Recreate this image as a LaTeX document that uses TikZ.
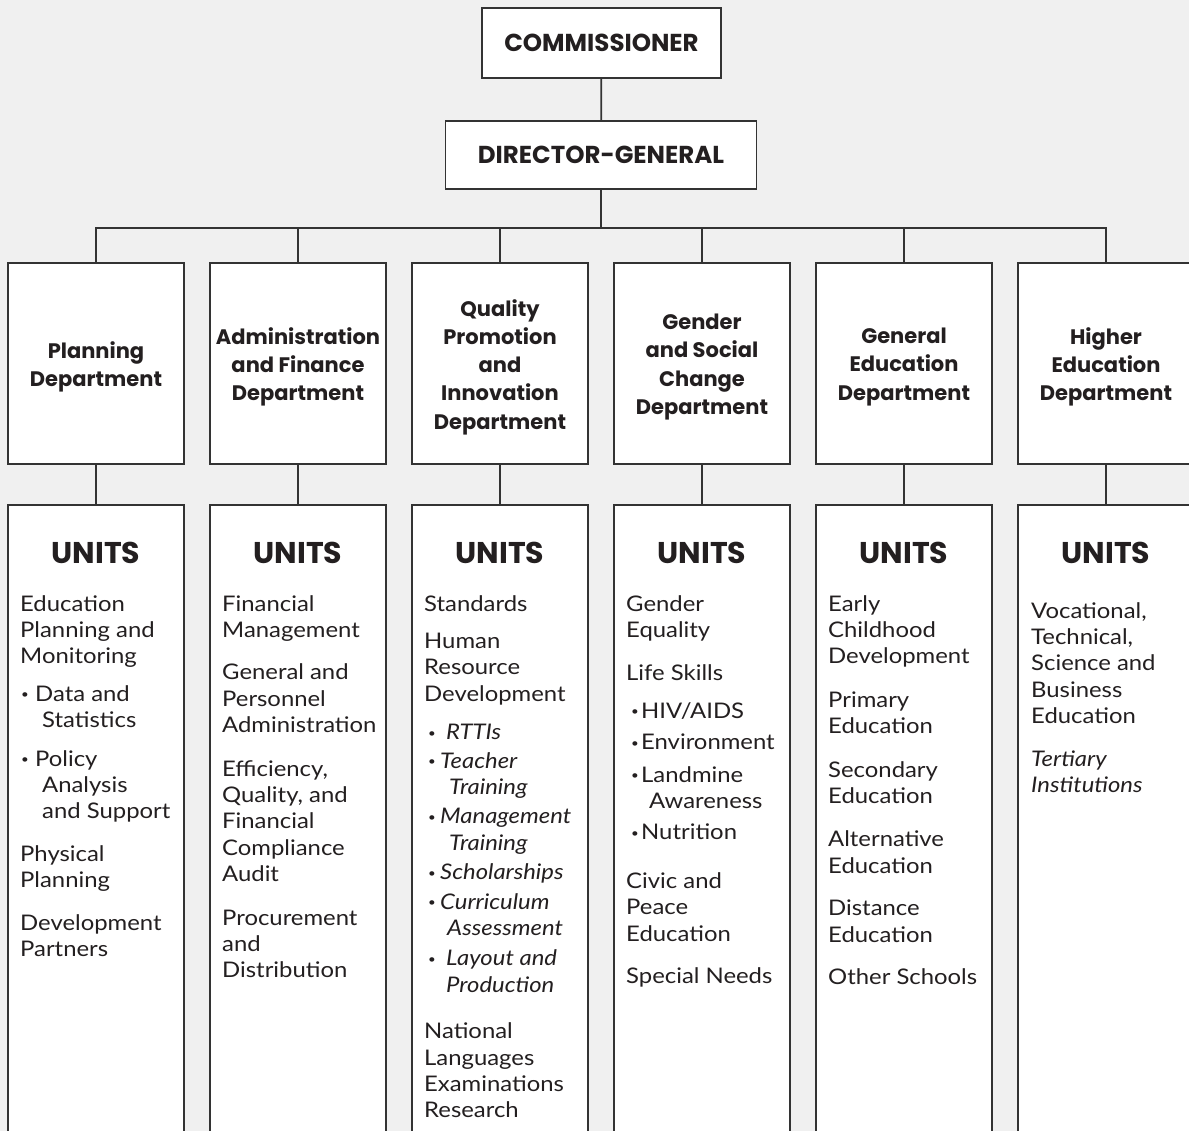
\documentclass[tikz,border=0pt]{standalone}
\usepackage{fontspec}
\setmainfont{Lato}[FakeStretch=1.11]
\newfontfamily\hdr{Poppins}
\definecolor{bgc}{HTML}{F0F0F0}
\definecolor{linec}{HTML}{333333}
\definecolor{txt}{HTML}{231F20}
\newcommand\mybul{\raisebox{0.12em}{\fontsize{12}{12}\selectfont\textbullet}}
\newcommand\bl[2]{\makebox[#2][l]{\hspace*{#1}\mybul}}
\tikzset{
  box/.style={draw=linec, line width=1.8pt, fill=white, inner sep=0pt},
  conn/.style={draw=linec, line width=1.8pt},
  toptxt/.style={font=\hdr\bfseries\fontsize{24.5}{28}\selectfont, text=txt},
  depttxt/.style={font=\hdr\bfseries\fontsize{21}{28.3}\selectfont, align=center, text=txt, inner sep=0pt, yshift=-3.5pt},
  unitshdr/.style={font=\hdr\bfseries\fontsize{30}{32}\selectfont, text=txt, inner sep=0pt},
  body/.style={font=\fontsize{21.5}{26.4}\selectfont, align=left, anchor=north west, inner sep=0pt, text=txt},
}
\begin{document}
\begin{tikzpicture}[x=1pt,y=-1pt]
\useasboundingbox (0,0) rectangle (1189,1131);
\fill[bgc] (0,0) rectangle (1189,1131);
\clip (0,0) rectangle (1189,1131);

% top boxes
\node[box, minimum width=239, minimum height=70] (com) at (601.5,43) {};
\node[box, minimum width=311, minimum height=68] (dg) at (601,155) {};
\coordinate (bus) at (601,228);

% department and unit boxes
\foreach \i/\x in {1/96,2/298,3/500,4/702,5/904,6/1106}{
  \node[box, minimum width=176, minimum height=201] (d\i) at (\x,363.5) {};
  \node[box, minimum width=176, minimum height=650, anchor=north] (u\i) at (\x,504) {};
}

% connectors
\draw[conn] (com) -- (dg);
\draw[conn] (dg) -- (bus);
\foreach \i in {1,...,6}{
  \draw[conn] (d\i.north) |- (bus);
  \draw[conn] (d\i) -- (u\i);
}
% boxes drawn again over the connector ends
\node[box, minimum width=239, minimum height=70, toptxt] (comt) at (com) {COMMISSIONER};
\node[box, minimum width=311, minimum height=68, toptxt] (dgt) at (dg) {DIRECTOR-GENERAL};
\foreach \i in {1,...,6}{
  \node[box, minimum width=176, minimum height=201] (db\i) at (d\i) {};
  \node[box, minimum width=176, minimum height=650] (ub\i) at (u\i) {};
  \node[unitshdr] (uh\i) at ([yshift=-49pt]u\i.north) {UNITS};
}
\node[depttxt] (t1) at (d1) {Planning\\Department};
\node[depttxt] (t2) at (d2) {Administration\\and Finance\\Department};
\node[depttxt] (t3) at (d3) {Quality\\Promotion\\and\\Innovation\\Department};
\node[depttxt] (t4) at (d4) {Gender\\and Social\\Change\\Department};
\node[depttxt] (t5) at (d5) {General\\Education\\Department};
\node[depttxt] (t6) at (d6) {Higher\\Education\\Department};

% unit lists
\node[body] (l1) at (20,595) {Education\\Planning and\\Monitoring\\[11pt]
\bl{1pt}{15pt}Data and\\\hspace*{22pt}Statistics\\[12pt]
\bl{1pt}{15pt}Policy\\\hspace*{22pt}Analysis\\\hspace*{22pt}and Support\\[16pt]
Physical\\Planning\\[16pt]
Development\\Partners};

\node[body] (l2) at (222,595) {Financial\\Management\\[16pt]
General and\\Personnel\\Administration\\[17pt]
Efficiency,\\Quality, and\\Financial\\Compliance\\Audit\\[17pt]
Procurement\\and\\Distribution};

\node[body] (l3) at (424,595) {Standards\\[11pt]
Human\\Resource\\Development\\[12pt]
\itshape\bl{4pt}{22pt}RTTIs\\[2pt]
\itshape\bl{4pt}{16pt}Teacher\\\itshape\hspace*{25pt}Training\\[3pt]
\itshape\bl{4pt}{16pt}Management\\\itshape\hspace*{25pt}Training\\[3pt]
\itshape\bl{4pt}{16pt}Scholarships\\[3pt]
\itshape\bl{4pt}{16pt}Curriculum\\\itshape\hspace*{23pt}Assessment\\[4pt]
\itshape\bl{4pt}{22pt}Layout and\\\itshape\hspace*{22pt}Production\\[20pt]
National\\Languages\\Examinations\\Research};

\node[body] (l4) at (626,595) {Gender\\Equality\\[17pt]
Life Skills\\[11pt]
\bl{5pt}{15pt}HIV/AIDS\\[5pt]
\bl{5pt}{15pt}Environment\\[6pt]
\bl{5pt}{15pt}Landmine\\\hspace*{23pt}Awareness\\[5pt]
\bl{5pt}{15pt}Nutrition\\[22pt]
Civic and\\Peace\\Education\\[16pt]
Special Needs};

\node[body] (l5) at (828,595) {Early\\Childhood\\Development\\[17pt]
Primary\\Education\\[17pt]
Secondary\\Education\\[17pt]
Alternative\\Education\\[16pt]
Distance\\Education\\[16pt]
Other Schools};

\node[body] (l6) at (1031,602) {Vocational,\\Technical,\\Science and\\Business\\Education\\[16pt]
\itshape Tertiary\\\itshape Institutions};
\end{tikzpicture}
\end{document}
